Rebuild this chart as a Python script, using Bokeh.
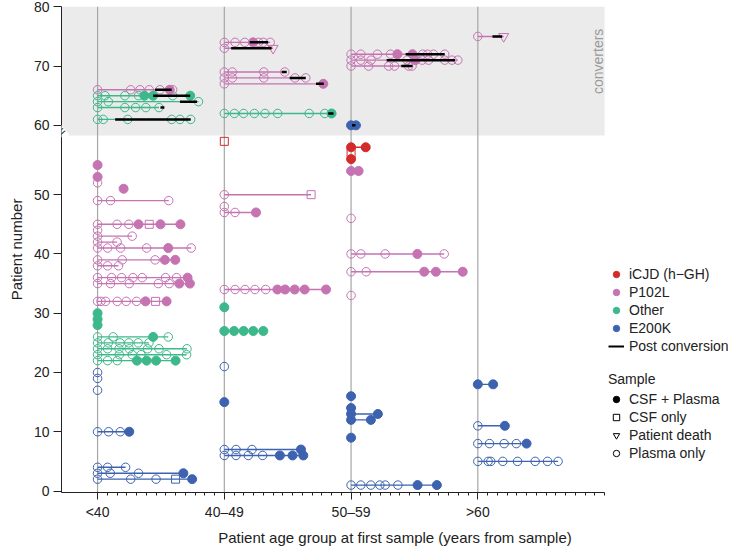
import math
from bokeh.plotting import figure
from bokeh.models import (Range1d, FixedTicker, CustomJSTickFormatter, BoxAnnotation,
                          Span, Label, Legend, LegendItem, ColumnDataSource)
from bokeh.embed import file_html
from bokeh.resources import INLINE

# ---------------- data ----------------
groups = ["<40", "40–49", "50–59", ">60"]
GROUP_SPAN = 13          # years shown per age group
BREAK_AT = 59.5          # axis break between patient 59 and 60
BREAK_SHIFT = 1.7        # extra room added by the break

mutation_names = ["iCJD (h−GH)", "P102L", "Other", "E200K"]
mutation_codes = ["I", "P", "O", "E"]
mutation_colors = ["#d42a2a", "#c673b2", "#3cb88b", "#3d63b0"]

# sample kinds: o = plasma only, f = CSF + plasma, s = CSF only, d = patient death
patient = [66, 65, 64, 63, 61, 55, 53, 52, 51, 49, 45, 44, 43, 42, 41, 39, 38, 36, 35, 32,
           30, 29, 28, 26, 25, 24, 23, 22, 20, 19, 17, 10, 4, 3, 2,
           74, 73, 69, 68, 67, 62, 59, 50, 48, 47, 34, 31, 27, 21, 15, 7, 6,
           72, 71, 70, 60, 58, 57, 56, 54, 46, 40, 37, 33, 16, 14, 13, 12, 9, 1,
           75, 18, 11, 8, 5]
age_group = [0] * 35 + [1] * 17 + [2] * 18 + [3] * 5
mutation = ["P", "O", "O", "O", "O", "P", "P", "P", "P", "P", "P", "P", "P", "P", "P", "P", "P", "P", "P", "P",
            "O", "O", "O", "O", "O", "O", "O", "O", "E", "E", "E", "E", "E", "E", "E",
            "P", "P", "P", "P", "P", "O", "I", "P", "P", "P", "P", "O", "O", "E", "E", "E", "E",
            "P", "P", "P", "E", "I", "I", "I", "P", "P", "P", "P", "P", "E", "E", "E", "E", "E", "E",
            "P", "E", "E", "E", "E"]
sample_years = [
    [0, 3.4, 4.35, 5.3, 6.4, 7.4, 7.7], [0, 0.76, 2.8, 4.2, 4.8, 5.7, 7.7, 9.5], [0, 1.1, 10.35],
    [0, 2.8, 3.9, 4.95, 6.3], [0, 0.58, 3.1, 7.6, 8.45, 9.55], [0], [0], [0], [2.67], [0, 1.33, 7.3],
    [0, 2.0, 3.2, 4.2, 5.3, 6.45, 8.5], [0], [0, 3.55], [0, 2.0], [0, 1.03, 2.36, 5.03, 7.25, 9.6],
    [0, 2.53, 5.9, 6.9, 7.97], [0, 1.03, 2.15], [0, 1.44, 2.46, 3.63, 4.58, 6.97, 8.1, 9.23],
    [0, 1.33, 3.25, 6.23, 7.35, 8.38, 9.47], [0, 0.35, 0.82, 2.02, 2.94, 4.0, 4.92, 5.95, 7.08],
    [0], [0], [0], [0, 1.6, 5.7, 7.25], [0, 1.1, 2.3, 3.2, 4.17, 5.27], [0, 1.03, 2.2, 3.25, 5.13, 6.3, 9.17],
    [0, 2.23, 3.56, 4.45, 7.08, 9.13], [0, 1.03, 2.02, 4.04, 5.03, 6.0, 8.0], [0], [0], [0],
    [0, 1.13, 2.33, 3.25], [0, 1.03, 2.87], [0, 1.3, 4.2, 8.8], [0, 3.4, 6.0, 8.0, 9.7],
    [0, 1.1, 2.1, 2.95, 3.5, 4.0, 4.7], [0, 5.0], [0, 0.82, 4.05, 6.2], [0, 0.82, 4.05, 7.25, 8.35],
    [0, 10.15], [0, 1.03, 1.98, 3.08, 4.17, 5.47, 8.7, 10.3, 11.0], [0], [0, 8.9], [0], [0, 1.1, 3.25],
    [0, 1.1, 2.12, 3.14, 4.24, 5.44, 6.23, 7.22, 8.24, 10.43], [0], [0, 1.0, 1.98, 2.97, 4.0], [0], [0],
    [0, 1.2, 2.84, 7.86], [0, 1.2, 2.46, 3.93, 5.7, 7.0, 8.1],
    [0, 1.0, 2.7, 4.05, 4.75, 6.3, 7.35, 7.85, 8.45, 9.6], [0, 1.0, 2.05, 5.75, 6.6, 7.3, 7.95, 9.6, 10.35, 10.95],
    [0, 1.8, 3.85, 4.45, 5.9, 6.25], [0, 0.5], [0, 1.5], [0], [0], [0, 0.77], [0], [0, 1.0, 3.5, 6.8, 9.55],
    [0, 1.55, 7.5, 8.7, 11.45], [0], [0], [0], [0, 2.75], [0, 2.03], [0], [0, 1.0, 2.03, 2.95, 3.5, 4.8, 6.82, 8.8],
    [0, 2.65], [0, 1.57], [0, 2.77], [0, 1.2, 2.7, 3.95, 5.0], [0, 1.06, 1.33, 2.56, 4.07, 5.88, 7.15, 8.23],
]
sample_kind = [
    "ooooofo", "ooooffof", "ooo", "ooooo", "oooooo", "f", "f", "o", "f", "ooo",
    "ooofsff", "o", "oo", "oo", "oooofo", "oooff", "ooo", "ooooooof", "oooooff", "oooooofsf",
    "f", "f", "f", "oofo", "oooooo", "ooooooo", "oooooo", "oooffff", "o", "o", "o",
    "ooof", "ooo", "ooof", "ooosf",
    "ooofooo", "od", "oooo", "ooooo", "of", "oooooooof", "s", "os", "o", "oof",
    "ooooofffff", "f", "fffff", "o", "f", "ooof", "oooofff",
    "ooooffoooo", "oooofooooo", "oooooo", "ff", "ff", "s", "f", "ff", "o", "ooofo",
    "oofff", "o", "f", "f", "ff", "ff", "f", "ooooooff",
    "od", "ff", "of", "oooof", "oooooooo",
]
conv_patient = [66, 65, 64, 63, 61, 74, 73, 69, 68, 67, 62, 72, 71, 70, 60, 75]
conv_start = [5.9, 5.7, 8.45, 6.45, 1.8, 2.6, 0.7, 5.9, 6.7, 9.4, 10.65, 5.6, 3.65, 5.15, 0.1, 1.5]
conv_end = [7.6, 9.5, 10.2, 6.85, 9.55, 4.5, 4.85, 6.4, 8.35, 10.2, 11.2, 9.6, 10.65, 6.3, 0.45, 2.5]

FONT = "Liberation Sans"
TXT = "#222222"
NAN = float("nan")


def ydisp(v):
    return v + BREAK_SHIFT if v > BREAK_AT else v


color_of = dict(zip(mutation_codes, mutation_colors))
base_of = {pt: GROUP_SPAN * g for pt, g in zip(patient, age_group)}
X_LO = -3.7
X_HI = GROUP_SPAN * len(groups)
Y_LO, Y_HI = -0.25, 81.75
PX_PER_YEAR = 9.75
FRAME_W = 667

# ---------------- figure ----------------
p = figure(frame_width=FRAME_W, frame_height=486,
           x_range=Range1d(X_LO, X_LO + FRAME_W / PX_PER_YEAR), y_range=Range1d(Y_LO, Y_HI),
           output_backend="svg", toolbar_location=None,
           min_border_left=61, min_border_right=2, min_border_top=6, min_border_bottom=2,
           outline_line_color=None, background_fill_color="white")
p.xgrid.visible = False
p.ygrid.visible = False

# converters band
p.add_layout(BoxAnnotation(bottom=60.0, left=X_LO, right=X_HI, fill_color="#ebebeb", fill_alpha=1.0,
                           line_color=None, level="underlay"))
for g in range(len(groups)):
    p.add_layout(Span(location=GROUP_SPAN * g, dimension="height", line_color="#a6a6a6",
                      line_width=1.2, level="underlay"))

# row lines
lx0, lx1, ly, lc = [], [], [], []
for pt, mu, yrs in zip(patient, mutation, sample_years):
    if len(yrs) > 1:
        lx0.append(base_of[pt] + min(yrs))
        lx1.append(base_of[pt] + max(yrs))
        ly.append(ydisp(pt))
        lc.append(color_of[mu])
p.segment(x0="x0", y0="y", x1="x1", y1="y", line_color="c", line_width=1.4,
          source=ColumnDataSource(dict(x0=lx0, x1=lx1, y=ly, c=lc)))

# sample markers
pts = {k: dict(x=[], y=[], c=[]) for k in "osdf"}
for pt, mu, yrs, kinds in zip(patient, mutation, sample_years, sample_kind):
    for yv, k in zip(yrs, kinds):
        pts[k]["x"].append(base_of[pt] + yv)
        pts[k]["y"].append(ydisp(pt))
        pts[k]["c"].append(color_of[mu])

p.scatter("x", "y", source=ColumnDataSource(pts["o"]), marker="circle", size=8.5,
          fill_color=None, line_color="c", line_width=1)
p.scatter("x", "y", source=ColumnDataSource(pts["s"]), marker="square", size=8,
          fill_color=None, line_color="c", line_width=1)
p.scatter("x", "y", source=ColumnDataSource(pts["d"]), marker="inverted_triangle", size=10,
          fill_color=None, line_color="c", line_width=1)
p.scatter("x", "y", source=ColumnDataSource(pts["f"]), marker="circle", size=9,
          fill_color="c", line_color="c", line_width=1)

# post conversion
cx0 = [base_of[pt] + s for pt, s in zip(conv_patient, conv_start)]
cx1 = [base_of[pt] + e for pt, e in zip(conv_patient, conv_end)]
cy = [ydisp(pt) for pt in conv_patient]
p.segment(x0="x0", y0="y", x1="x1", y1="y", line_color="black", line_width=2.5,
          source=ColumnDataSource(dict(x0=cx0, x1=cx1, y=cy)))

# converters label
p.add_layout(Label(x=51.3, y=72.5, text="converters", angle=math.pi / 2,
                   text_align="center", text_baseline="middle", text_color="#9a9a9a",
                   text_font=FONT, text_font_size="14px"))
# axis break mark
p.add_layout(Label(x=X_LO, y=60.7, text="=", angle=0.7, text_align="center",
                   text_baseline="middle", text_font=FONT, text_font_size="13px",
                   background_fill_color="white", text_color="black"))

# axes
xa = p.xaxis[0]
xa.bounds = (X_LO, X_HI)
xa.ticker = FixedTicker(ticks=[GROUP_SPAN * g for g in range(len(groups))],
                        minor_ticks=[i for i in range(1, X_HI + 1) if i % GROUP_SPAN or i == X_HI])
xa.major_label_overrides = {GROUP_SPAN * g: lab for g, lab in enumerate(groups)}
xa.axis_label = "Patient age group at first sample (years from sample)"
xa.major_tick_out = 7
xa.major_tick_in = 0
xa.minor_tick_out = 3
xa.minor_tick_in = 0
xa.minor_tick_line_color = TXT

ya = p.yaxis[0]
ya.bounds = (Y_LO, Y_HI)
ya.ticker = FixedTicker(ticks=[0, 10, 20, 30, 40, 50] + [ydisp(v) for v in (60, 70, 80)])
ya.formatter = CustomJSTickFormatter(
    code="return tick > %s ? String(Math.round(tick - %s)) : String(Math.round(tick));"
    % (BREAK_AT, BREAK_SHIFT))
ya.axis_label = "Patient number"
ya.major_tick_out = 8
ya.major_tick_in = 0
ya.minor_tick_line_color = None

for ax in (xa, ya):
    ax.axis_line_color = TXT
    ax.major_tick_line_color = TXT
    ax.major_label_text_font = FONT
    ax.major_label_text_font_size = "14px"
    ax.major_label_text_color = TXT
    ax.axis_label_text_font = FONT
    ax.axis_label_text_font_size = "15px"
    ax.axis_label_text_font_style = "normal"
    ax.axis_label_text_color = TXT
    ax.major_label_standoff = 4
    ax.axis_label_standoff = 6

# legends: one hidden (NaN) point per key so the legend can draw its glyph
items1 = []
for name, col in zip(mutation_names, mutation_colors):
    r = p.scatter(x=[NAN], y=[NAN], marker="circle", size=9, fill_color=col, line_color=col)
    items1.append(LegendItem(label=name, renderers=[r]))
rl = p.line(x=[NAN, NAN], y=[NAN, NAN], line_color="black", line_width=2)
items1.append(LegendItem(label="Post conversion", renderers=[rl]))

items2 = []
for name, mk, fill in [("CSF + Plasma", "circle", "black"), ("CSF only", "square", None),
                       ("Patient death", "inverted_triangle", None), ("Plasma only", "circle", None)]:
    r = p.scatter(x=[NAN], y=[NAN], marker=mk, size=9,
                  fill_color=fill, line_color="black", line_width=1)
    items2.append(LegendItem(label=name, renderers=[r]))

common = dict(glyph_width=16, glyph_height=18, label_height=18, label_standoff=5, spacing=0,
              padding=0, margin=0, border_line_color=None, background_fill_alpha=0,
              label_text_font=FONT, label_text_font_size="14px", label_text_color=TXT)
leg1 = Legend(items=items1, location=(547, 137), **common)
leg2 = Legend(items=items2, location=(547, 30), title="Sample", title_text_font=FONT,
              title_text_font_size="14px", title_text_font_style="normal",
              title_text_color=TXT, title_standoff=3, **common)
p.add_layout(leg1)
p.add_layout(leg2)

open("out.html", "w").write(file_html(p, INLINE))
